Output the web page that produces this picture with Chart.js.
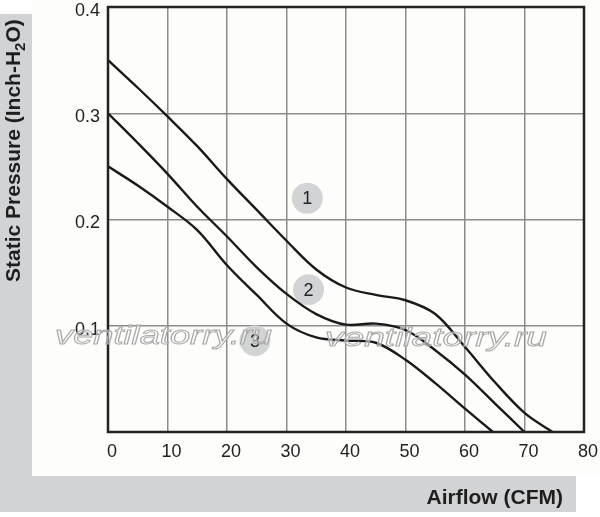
<!DOCTYPE html>
<html>
<head>
<meta charset="utf-8">
<title>Static Pressure vs Airflow</title>
<script src="https://cdn.jsdelivr.net/npm/chart.js@4.4.1/dist/chart.umd.min.js"></script>
<style>
    html, body { margin: 0; padding: 0; background: #ffffff; }
    #wrap { width: 600px; height: 517px; position: relative; }
</style>
</head>
<body>
<div id="wrap"><canvas id="pqChart"></canvas></div>
<script>
// airflow (CFM) / static pressure (inch H2O)
var flow1 = [0, 5, 10, 15, 20, 25, 30, 35, 40, 45, 50, 55, 60, 65, 70, 74.7];
var pres1 = [0.35, 0.324, 0.297, 0.269, 0.238, 0.209, 0.180, 0.153, 0.136, 0.129, 0.124, 0.111, 0.080, 0.047, 0.018, 0];

var flow2 = [0, 5, 10, 15, 20, 25, 30, 35, 40, 45, 50, 55, 60, 65, 70];
var pres2 = [0.30, 0.272, 0.243, 0.212, 0.184, 0.155, 0.130, 0.111, 0.101, 0.102, 0.096, 0.077, 0.054, 0.027, 0];

var flow3 = [0, 5, 10, 15, 20, 25, 30, 35, 40, 45, 50, 55, 60, 64.7];
var pres3 = [0.25, 0.232, 0.212, 0.190, 0.157, 0.129, 0.102, 0.089, 0.086, 0.084, 0.068, 0.046, 0.022, 0];

// curve number badges
var badgeText = ['1', '2', '3'];
var badgeFlow = [33.5, 33.7, 24.7];
var badgePres = [0.220, 0.134, 0.086];

var xTicks = [0, 10, 20, 30, 40, 50, 60, 70, 80];
var yTicks = [0.1, 0.2, 0.3, 0.4];

function pairs(xs, ys) {
    return xs.map(function (x, i) { return { x: x, y: ys[i] }; });
}

var fontFamily = "'Liberation Sans', Arial, sans-serif";
Chart.defaults.font.family = fontFamily;

function curve(xs, ys) {
    return {
        data: pairs(xs, ys),
        borderColor: '#1a1a1a',
        borderWidth: 2.4,
        pointRadius: 0,
        fill: false,
        tension: 0.35
    };
}

function noOverflow(scale) {
    scale.paddingTop = 0;
    scale.paddingBottom = 0;
    scale.paddingLeft = 0;
    scale.paddingRight = 0;
}

var frame = {
    id: 'frame',
    beforeDraw: function (chart) {
        var ctx = chart.ctx;
        ctx.save();
        ctx.fillStyle = '#ffffff';
        ctx.fillRect(0, 0, chart.width, chart.height);
        ctx.fillStyle = '#d2d3d5';
        ctx.fillRect(0, 14, 32, 498);
        ctx.fillRect(0, 476, 576, 36);
        ctx.fillStyle = '#fdfdfb';
        ctx.fillRect(32, 0, 568, 476);
        ctx.restore();
    },
    afterDatasetsDraw: function (chart) {
        var ctx = chart.ctx, a = chart.chartArea;
        ctx.save();

        // badge numbers
        var meta = chart.getDatasetMeta(3);
        ctx.fillStyle = '#222222';
        ctx.font = '18px ' + fontFamily;
        ctx.textAlign = 'center';
        ctx.textBaseline = 'middle';
        meta.data.forEach(function (pt, i) {
            ctx.fillText(badgeText[i], pt.x, pt.y + 1);
        });

        // frame
        ctx.strokeStyle = '#222222';
        ctx.lineWidth = 2.5;
        ctx.strokeRect(a.left, a.top, a.right - a.left, a.bottom - a.top);

        // watermark
        ctx.font = 'italic 25px ' + fontFamily;
        ctx.textAlign = 'left';
        ctx.textBaseline = 'alphabetic';
        ctx.strokeStyle = '#a8a8a8';
        ctx.fillStyle = 'rgba(255,255,255,0.45)';
        [[55, 344, 217], [325, 346, 222]].forEach(function (w) {
            var tw = ctx.measureText('ventilatorry.ru').width;
            ctx.save();
            ctx.translate(w[0], w[1]);
            ctx.scale(w[2] / tw, 1);
            ctx.lineWidth = 0.9;
            ctx.fillText('ventilatorry.ru', 0, 0);
            ctx.strokeText('ventilatorry.ru', 0, 0);
            ctx.restore();
        });

        // axis titles
        ctx.fillStyle = '#1e1e1e';
        ctx.font = 'bold 21px ' + fontFamily;
        ctx.textAlign = 'right';
        ctx.fillText('Airflow (CFM)', 563, 503.5);

        ctx.translate(19.5, 282);
        ctx.rotate(-Math.PI / 2);
        ctx.textAlign = 'left';
        var x = 0;
        var part1 = 'Static Pressure (Inch-H';
        ctx.fillText(part1, x, 0);
        x += ctx.measureText(part1).width;
        ctx.font = 'bold 15px ' + fontFamily;
        ctx.fillText('2', x, 5);
        x += ctx.measureText('2').width;
        ctx.font = 'bold 21px ' + fontFamily;
        ctx.fillText('O)', x, 0);
        ctx.restore();
    }
};

var pqChart = new Chart(document.getElementById('pqChart').getContext('2d'), {
    type: 'line',
    data: {
        datasets: [
            curve(flow1, pres1),
            curve(flow2, pres2),
            curve(flow3, pres3),
            {
                data: pairs(badgeFlow, badgePres),
                showLine: false,
                pointRadius: 15.5,
                pointHoverRadius: 15.5,
                pointBackgroundColor: '#d2d3d5',
                pointBorderWidth: 0
            }
        ]
    },
    options: {
        responsive: true,
        maintainAspectRatio: false,
        animation: false,
        layout: { autoPadding: false, padding: { left: 0, top: 7, right: 16, bottom: 0 } },
        plugins: {
            legend: { display: false },
            tooltip: { enabled: false }
        },
        scales: {
            x: {
                type: 'linear',
                min: 0,
                max: 80,
                afterBuildTicks: function (scale) {
                    scale.ticks = xTicks.map(function (v) { return { value: v }; });
                },
                afterFit: function (scale) { scale.height = 85; noOverflow(scale); },
                grid: { color: '#8c8c8c', lineWidth: 1.5, drawTicks: false },
                border: { display: false },
                ticks: { color: '#222222', font: { size: 18 }, padding: 9, labelOffset: 4 }
            },
            y: {
                min: 0,
                max: 0.4,
                afterBuildTicks: function (scale) {
                    scale.ticks = [{ value: 0 }].concat(yTicks.map(function (v) { return { value: v }; }));
                },
                afterFit: function (scale) { scale.width = 108; noOverflow(scale); },
                grid: { color: '#8c8c8c', lineWidth: 1.5, drawTicks: false },
                border: { display: false },
                ticks: {
                    color: '#222222',
                    font: { size: 18 },
                    padding: 8,
                    labelOffset: 4,
                    callback: function (v) { return v === 0 ? '' : v.toFixed(1); }
                }
            }
        }
    },
    plugins: [frame]
});
</script>
</body>
</html>
